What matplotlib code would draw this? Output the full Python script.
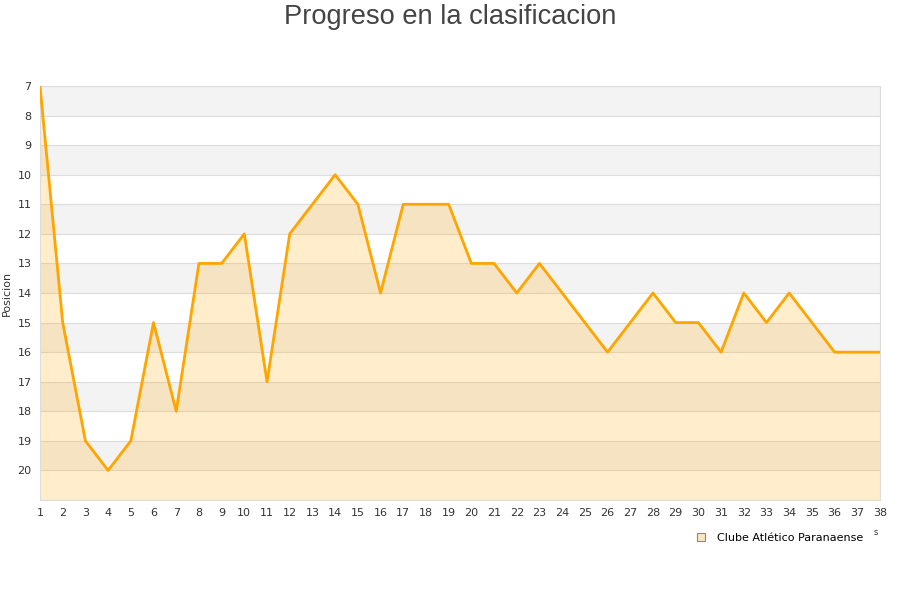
import matplotlib
matplotlib.use("Agg")
import matplotlib.pyplot as plt
from matplotlib.lines import Line2D

# jornadas y posiciones
jornadas = list(range(1, 39))
posicion = [7, 15, 19, 20, 19, 15, 18, 13, 13, 12,
            17, 12, 11, 10, 11, 14, 11, 11, 11, 13,
            13, 14, 13, 14, 15, 16, 15, 14, 15, 15,
            16, 14, 15, 14, 15, 16, 16, 16]
equipo = "Clube Atlético Paranaense"

fig = plt.figure(figsize=(9, 6), dpi=100)
ax = fig.add_axes([40 / 900, 100 / 600, 840 / 900, 414 / 600])

# bandas alternas
for y in range(7, 21, 2):
    ax.axhspan(y, y + 1, color="#f3f3f3", zorder=0, lw=0)
for y in range(7, 22):
    ax.axhline(y, color="#dddddd", lw=0.8, zorder=1)

ax.fill_between(jornadas, posicion, 21, color="#FFA500", alpha=0.2, lw=0, zorder=2)
ax.plot(jornadas, posicion, color="#FFA500", lw=2, zorder=3)

ax.set_xlim(1, 38)
ax.set_ylim(21, 7)
ax.set_xticks(jornadas)
ax.set_yticks(range(7, 21))
ax.tick_params(length=0, labelsize=8, colors="#333333", pad=6)
for s in ax.spines.values():
    s.set_color("#dddddd")

ax.set_ylabel("Posicion", fontsize=8, color="#333333", labelpad=4)
fig.text(0.5, 0.972, "Progreso en la clasificacion", ha="center", va="center",
         fontsize=19.6, color="#444444", family="Liberation Sans")
fig.text(0.973, 0.113, "s", ha="center", va="center", fontsize=6, color="#333333")

h = Line2D([], [], marker="s", ls="none", markersize=6,
           markerfacecolor="#FFE6BF", markeredgecolor="#888888", markeredgewidth=0.8)
fig.legend([h], [equipo], loc="center right", bbox_to_anchor=(0.97, 0.104),
           frameon=False, fontsize=8, handletextpad=0.4)

fig.savefig("out.png")
